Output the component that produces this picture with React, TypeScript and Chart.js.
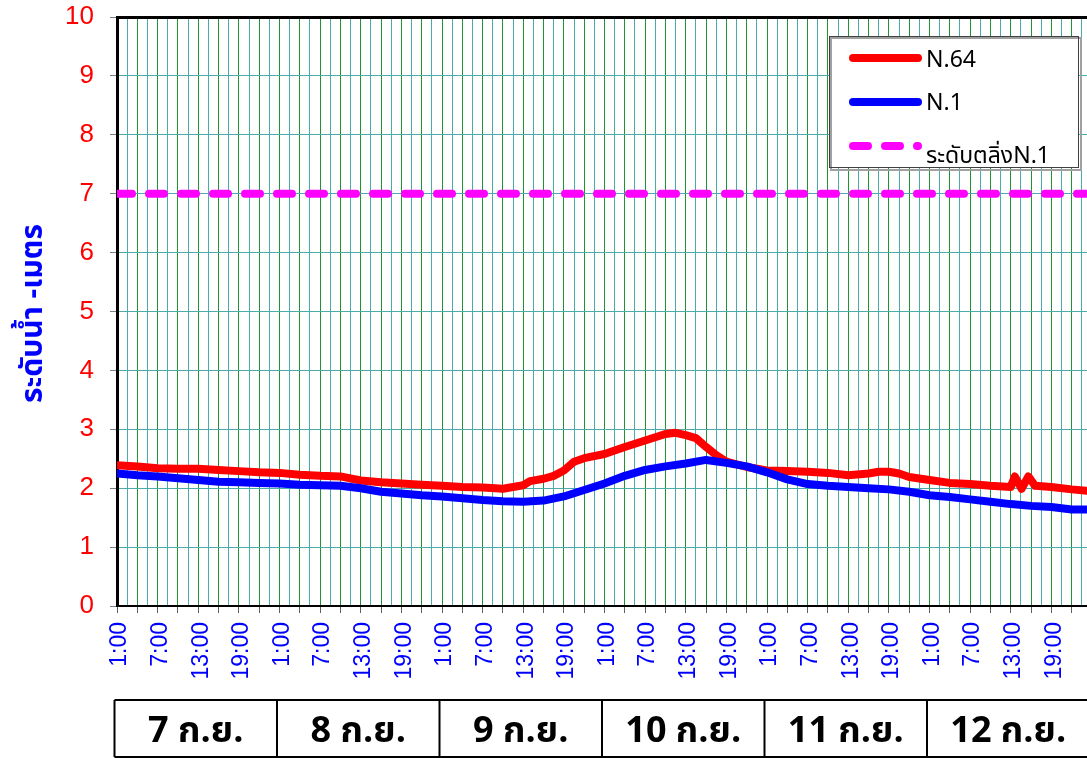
import React, { useEffect, useRef } from 'react';
import { Chart, registerables } from 'chart.js';

Chart.register(...registerables);

// hours counted from 7 ก.ย. 1:00
const hoursN64 = [0, 3, 6, 9, 12, 15, 18, 21, 24, 27, 30, 33, 36, 39, 42, 45, 48, 51, 54, 57, 60, 61, 63, 64.5, 66, 67.5, 69, 72, 75, 78, 81, 82.5, 84, 85.5, 87, 88.5, 90, 93, 96, 99, 102, 105, 108, 111, 112.5, 114, 115.5, 117, 120, 123, 126, 129, 132, 132.6, 133.6, 134.6, 135.6, 138, 141, 144];
const levelsN64 = [2.39, 2.37, 2.34, 2.33, 2.33, 2.31, 2.29, 2.27, 2.26, 2.23, 2.21, 2.20, 2.13, 2.10, 2.08, 2.06, 2.04, 2.02, 2.01, 1.99, 2.05, 2.12, 2.16, 2.21, 2.30, 2.45, 2.51, 2.58, 2.70, 2.81, 2.92, 2.94, 2.90, 2.85, 2.70, 2.56, 2.45, 2.36, 2.30, 2.29, 2.28, 2.26, 2.22, 2.25, 2.28, 2.28, 2.25, 2.19, 2.14, 2.09, 2.07, 2.04, 2.02, 2.20, 1.99, 2.20, 2.04, 2.02, 1.98, 1.95];

const hoursN1 = [0, 3, 6, 9, 12, 15, 18, 21, 24, 27, 30, 33, 36, 39, 42, 45, 48, 51, 54, 57, 60, 63, 66, 69, 72, 75, 78, 81, 84, 87, 90, 93, 96, 99, 102, 105, 108, 111, 114, 117, 120, 123, 126, 129, 132, 135, 138, 141, 144];
const levelsN1 = [2.25, 2.22, 2.20, 2.17, 2.14, 2.11, 2.10, 2.09, 2.08, 2.06, 2.05, 2.04, 2.00, 1.94, 1.91, 1.88, 1.86, 1.83, 1.80, 1.78, 1.77, 1.79, 1.86, 1.97, 2.08, 2.21, 2.31, 2.37, 2.42, 2.48, 2.43, 2.37, 2.27, 2.15, 2.07, 2.04, 2.02, 2.00, 1.98, 1.94, 1.88, 1.85, 1.81, 1.77, 1.73, 1.70, 1.68, 1.64, 1.64];

const bankHours = [0, 144];
const bankLevels = [7, 7];

const seriesNames = ['N.64', 'N.1', 'ระดับตลิ่งN.1'];
const dayLabels = ['7 ก.ย.', '8 ก.ย.', '9 ก.ย.', '10 ก.ย.', '11 ก.ย.', '12 ก.ย.'];
const yTitle = 'ระดับน้ำ -เมตร';

const RED = '#FF0000';
const BLUE = '#0000FF';
const PINK = '#FF00FF';
const TEAL = '#4AABAB';
const GREEN = '#1E9432';
const LATIN = "'Liberation Sans', Arial, sans-serif";
const THAI = "'Noto Sans Thai', 'Liberation Sans', 'DejaVu Sans', sans-serif";

const isMult = (v: number, m: number) => Math.abs(v / m - Math.round(v / m)) < 1e-6;

const decor = {
  id: 'decor',
  afterDraw(chart: any) {
    const ctx = chart.ctx as CanvasRenderingContext2D;
    const area = chart.chartArea;
    const xs = chart.scales.x;

    // y axis title
    ctx.save();
    ctx.translate(36, (area.top + area.bottom) / 2 + 2);
    ctx.rotate(-Math.PI / 2);
    ctx.font = `bold 30px ${THAI}`;
    ctx.fillStyle = BLUE;
    ctx.textAlign = 'center';
    ctx.textBaseline = 'middle';
    ctx.fillText(yTitle, 0, 0);
    ctx.restore();

    // legend box
    ctx.save();
    ctx.fillStyle = '#FFFFFF';
    ctx.fillRect(829, 36, 250, 132);
    ctx.strokeStyle = '#A0A0A0';
    ctx.lineWidth = 2;
    ctx.strokeRect(831, 38, 250, 132);
    ctx.strokeStyle = '#404040';
    ctx.lineWidth = 1;
    ctx.strokeRect(829.5, 36.5, 249, 131);
    const rows = [
      { y: 58, color: RED, dash: [] as number[], base: 66.5 },
      { y: 102, color: BLUE, dash: [] as number[], base: 110 },
      { y: 146, color: PINK, dash: [15, 17], base: 163 },
    ];
    rows.forEach((r, i) => {
      ctx.beginPath();
      ctx.strokeStyle = r.color;
      ctx.lineWidth = 8;
      ctx.lineCap = 'round';
      ctx.setLineDash(r.dash);
      ctx.moveTo(853, r.y);
      ctx.lineTo(918, r.y);
      ctx.stroke();
      ctx.setLineDash([]);
      ctx.fillStyle = '#000000';
      ctx.font = `23px ${THAI}`;
      ctx.textAlign = 'left';
      ctx.textBaseline = 'alphabetic';
      ctx.fillText(seriesNames[i], 926, r.base);
    });
    ctx.restore();

    // date table
    ctx.save();
    const top = 700;
    const bottom = 757;
    const edges = [0, 24, 48, 72, 96, 120, 144].map((h) => xs.getPixelForValue(h) - 2.5);
    ctx.strokeStyle = '#000000';
    ctx.lineWidth = 2;
    ctx.beginPath();
    ctx.moveTo(edges[0], top);
    ctx.lineTo(chart.width, top);
    ctx.moveTo(edges[0], bottom);
    ctx.lineTo(chart.width, bottom);
    edges.forEach((e) => {
      ctx.moveTo(e, top);
      ctx.lineTo(e, bottom);
    });
    ctx.stroke();
    ctx.fillStyle = '#000000';
    ctx.font = `bold 36px ${THAI}`;
    ctx.textAlign = 'center';
    ctx.textBaseline = 'alphabetic';
    dayLabels.forEach((d, i) => {
      ctx.fillText(d, (edges[i] + edges[i + 1]) / 2, 742);
    });
    ctx.restore();
  },
};

export default function App() {
  const ref = useRef<HTMLCanvasElement | null>(null);

  useEffect(() => {
    document.body.style.margin = '0';
    const canvas = ref.current;
    if (!canvas) return;
    const chart = new Chart(canvas, {
      type: 'line',
      data: {
        datasets: [
          {
            label: seriesNames[0],
            data: hoursN64.map((h, i) => ({ x: h, y: levelsN64[i] })),
            borderColor: RED,
            backgroundColor: RED,
            borderWidth: 8,
            pointRadius: 0,
            tension: 0,
            borderCapStyle: 'round',
            borderJoinStyle: 'round',
            clip: 0,
            order: 2,
          },
          {
            label: seriesNames[1],
            data: hoursN1.map((h, i) => ({ x: h, y: levelsN1[i] })),
            borderColor: BLUE,
            backgroundColor: BLUE,
            borderWidth: 8,
            pointRadius: 0,
            tension: 0,
            borderCapStyle: 'round',
            borderJoinStyle: 'round',
            clip: 0,
            order: 1,
          },
          {
            label: seriesNames[2],
            data: bankHours.map((h, i) => ({ x: h, y: bankLevels[i] })),
            borderColor: PINK,
            backgroundColor: PINK,
            borderWidth: 8,
            borderDash: [15, 17],
            pointRadius: 0,
            borderCapStyle: 'round',
            clip: 0,
            order: 0,
          },
        ],
      } as any,
      options: {
        responsive: false,
        animation: false,
        layout: { padding: { top: 17, left: 0, right: 8, bottom: 0 } },
        plugins: { legend: { display: false }, tooltip: { enabled: false } },
        scales: {
          x: {
            type: 'linear',
            min: 0,
            max: 144,
            afterFit(s: any) {
              s.height = 152;
              s.paddingLeft = 0;
              s.paddingRight = 0;
            },
            border: { display: true, color: '#000000', width: 2 },
            grid: {
              color: (c: any) => {
                const v = c.tick ? c.tick.value : -1;
                if (v <= 0 || v >= 144) return 'rgba(0,0,0,0)';
                return isMult(v, 3) ? GREEN : TEAL;
              },
              lineWidth: 1,
              tickLength: 7,
              tickWidth: 1,
              tickColor: (c: any) => {
                const v = c.tick ? c.tick.value : -1;
                return v >= 0 && v < 144 && isMult(v, 3) ? '#606060' : 'rgba(0,0,0,0)';
              },
            },
            ticks: {
              stepSize: 1.5,
              autoSkip: false,
              includeBounds: false,
              maxRotation: 90,
              minRotation: 90,
              color: BLUE,
              font: { family: LATIN, size: 23 },
              padding: 9,
              labelOffset: 3,
              callback: (v: any) => {
                const n = Number(v);
                if (n >= 144 || !isMult(n, 6)) return '';
                return `${(n % 24) + 1}:00`;
              },
            },
          },
          y: {
            min: 0,
            max: 10,
            afterFit(s: any) {
              s.width = 117;
              s.paddingTop = 0;
              s.paddingBottom = 0;
            },
            border: { display: true, color: '#000000', width: 3 },
            grid: {
              color: (c: any) => {
                const v = c.tick ? c.tick.value : -1;
                if (v === 10) return '#000000';
                if (v === 0) return 'rgba(0,0,0,0)';
                return TEAL;
              },
              lineWidth: (c: any) => (c.tick && c.tick.value === 10 ? 3 : 1),
              tickLength: 7,
              tickWidth: 1,
              tickColor: '#808080',
            },
            ticks: {
              stepSize: 1,
              color: RED,
              font: { family: LATIN, size: 26 },
              padding: 16,
            },
          },
        },
      } as any,
      plugins: [decor],
    });
    return () => chart.destroy();
  }, []);

  return (
    <div style={{ width: 1087, height: 758, overflow: 'hidden', position: 'relative', background: '#FFFFFF' }}>
      <canvas ref={ref} width={1100} height={758} style={{ width: 1100, height: 758, display: 'block' }} />
    </div>
  );
}
